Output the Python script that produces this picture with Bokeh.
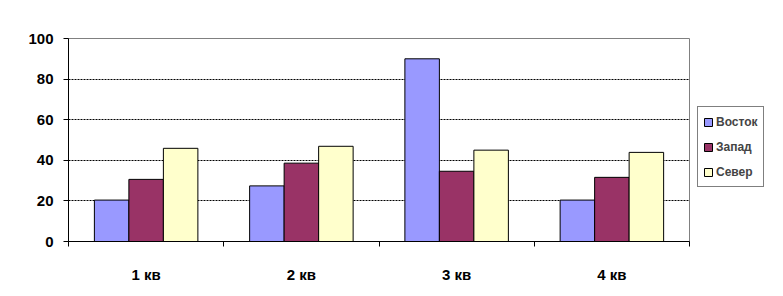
from bokeh.plotting import figure
from bokeh.models import FixedTicker, Range1d, Legend, LegendItem
from bokeh.embed import file_html
from bokeh.resources import INLINE

categories = ["1 кв", "2 кв", "3 кв", "4 кв"]
series_names = ["Восток", "Запад", "Север"]
vostok = [20.4, 27.4, 90.0, 20.4]
zapad = [30.6, 38.6, 34.6, 31.6]
sever = [45.9, 46.9, 45.0, 43.9]
colors = ["#9999FF", "#993366", "#FFFFCC"]
y_ticks = [0, 20, 40, 60, 80, 100]

FONT = "Liberation Sans"

p = figure(frame_width=621, frame_height=203, output_backend="svg", toolbar_location=None,
           x_range=Range1d(0, len(categories)), y_range=Range1d(0, 100))
p.min_border_left = 68
p.min_border_right = 94
p.min_border_top = 38
p.min_border_bottom = 55
p.background_fill_color = "white"
p.border_fill_color = "white"
p.outline_line_color = "#808080"
p.outline_line_width = 1

n = len(series_names)
bw = 1.0 / (n + 1.5)
renderers = []
for k, (vals, col) in enumerate(zip([vostok, zapad, sever], colors)):
    xs = [i + 0.5 + (k - (n - 1) / 2) * bw for i in range(len(categories))]
    r = p.vbar(x=xs, top=vals, width=bw, bottom=0, fill_color=col,
               line_color="black", line_width=1)
    renderers.append(r)

# y axis
p.yaxis.ticker = FixedTicker(ticks=y_ticks)
p.yaxis.axis_line_color = "black"
p.yaxis.major_tick_line_color = "black"
p.yaxis.major_tick_out = 5
p.yaxis.major_tick_in = 0
p.yaxis.minor_tick_line_color = None
p.yaxis.major_label_text_font = FONT
p.yaxis.major_label_text_font_style = "bold"
p.yaxis.major_label_text_font_size = "15px"
p.yaxis.major_label_text_color = "black"
p.yaxis.major_label_standoff = 10

# x axis: labels at centers, ticks at boundaries
centers = [i + 0.5 for i in range(len(categories))]
bounds = [float(i) for i in range(len(categories) + 1)]
p.xaxis.ticker = FixedTicker(ticks=centers, minor_ticks=bounds)
p.xaxis.major_label_overrides = {c: lab for c, lab in zip(centers, categories)}
p.xaxis.major_tick_line_color = None
p.xaxis.minor_tick_line_color = "black"
p.xaxis.minor_tick_out = 5
p.xaxis.minor_tick_in = 0
p.xaxis.axis_line_color = "black"
p.xaxis.major_label_text_font = FONT
p.xaxis.major_label_text_font_style = "bold"
p.xaxis.major_label_text_font_size = "15px"
p.xaxis.major_label_text_color = "black"
p.xaxis.major_label_standoff = 18

p.xgrid.grid_line_color = None
p.ygrid.ticker = FixedTicker(ticks=[20, 40, 60, 80])
p.ygrid.grid_line_color = "black"
p.ygrid.grid_line_dash = "2 1"
p.ygrid.grid_line_width = 1

legend = Legend(items=[LegendItem(label=nm, renderers=[r]) for nm, r in zip(series_names, renderers)])
legend.label_text_font = FONT
legend.label_text_font_style = "bold"
legend.label_text_font_size = "12px"
legend.glyph_width = 10
legend.glyph_height = 10
legend.label_standoff = 3
legend.label_height = 19
legend.spacing = 6
legend.padding = 5
legend.margin = 8
legend.border_line_color = "black"
legend.border_line_width = 1
legend.background_fill_color = "white"
legend.background_fill_alpha = 1
legend.location = (8, 54)
p.add_layout(legend, "right")

open("out.html", "w").write(file_html(p, INLINE))
